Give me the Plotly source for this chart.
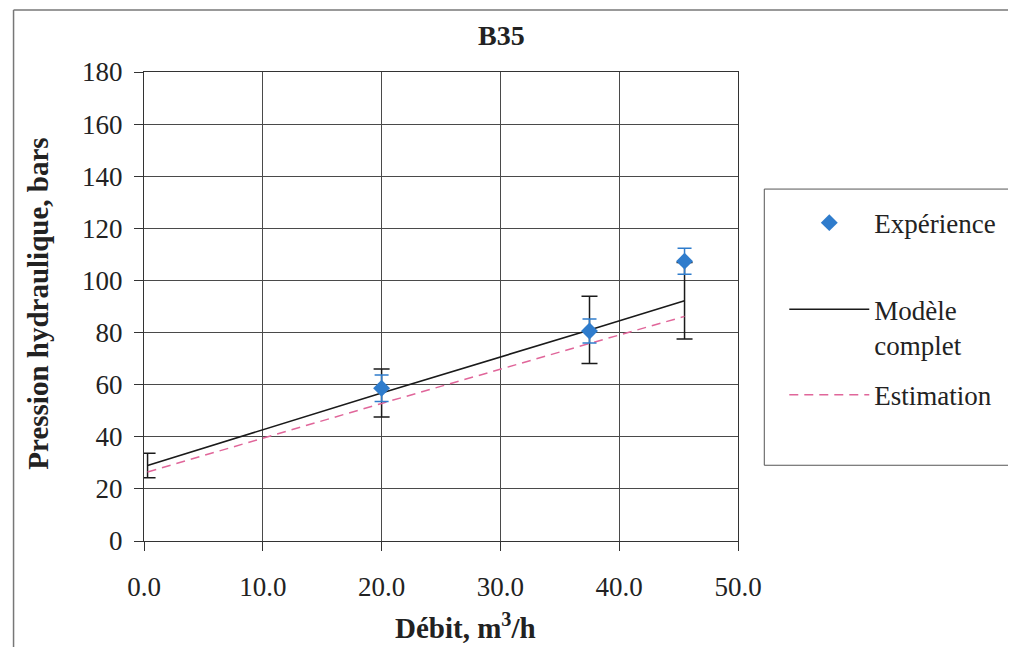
import plotly.graph_objects as go

# ---- data ----
x_model = [0.3, 20.0, 37.5, 45.5]
modele_complet = [29.0, 56.8, 81.0, 92.2]
modele_err = [4.7, 9.2, 12.9, 14.7]
estimation = [26.5, 52.8, 75.8, 86.2]

x_exp = [20.0, 37.5, 45.5]
experience = [58.6, 80.6, 107.4]
experience_err = [5.1, 4.6, 5.0]

x_ticks = [0, 10, 20, 30, 40, 50]
y_ticks = [0, 20, 40, 60, 80, 100, 120, 140, 160, 180]

FONT = "Liberation Serif, Times New Roman, serif"

# The page body has an 8px default margin: work in window pixels and shift.
OFF = 8
W, H = 1016 - OFF, 647 - OFF
L, R, T, B = 143.5 - OFF, 737.7 - OFF, 72.0 - OFF, 540.7 - OFF
pw, ph = R - L, B - T


def px_x(p):
    return (p - OFF - L) / pw


def px_y(p):
    return (B - (p - OFF)) / ph


fig = go.Figure()

fig.add_trace(go.Scatter(
    x=x_model, y=modele_complet, mode="lines", name="Modèle<br>complet",
    line=dict(color="#1a1a1a", width=1.6),
    error_y=dict(type="data", array=modele_err, visible=True,
                 color="#1a1a1a", thickness=1.5, width=8),
    legend="legend2",
))
fig.add_trace(go.Scatter(
    x=x_model, y=estimation, mode="lines", name="Estimation",
    line=dict(color="#e0669a", width=1.5, dash="9px,6px"),
    legend="legend3",
))
fig.add_trace(go.Scatter(
    x=x_exp, y=experience, mode="markers", name="Expérience",
    marker=dict(symbol="diamond", size=13, color="#2f7ccc"),
    error_y=dict(type="data", array=experience_err, visible=True,
                 color="#2f7ccc", thickness=1.5, width=7),
    legend="legend",
))

axis_common = dict(
    showgrid=True, gridcolor="#4a4a4a", gridwidth=1,
    showline=True, linecolor="#333333", linewidth=1, mirror=True,
    ticks="outside", ticklen=9, tickcolor="#333333",
    tickfont=dict(family=FONT, size=27, color="#222222"),
    zeroline=False,
)

fig.update_xaxes(range=[0, 50], tickvals=x_ticks, tickformat=".1f",
                 ticklabelstandoff=13, **axis_common)
fig.update_yaxes(range=[0, 180], tickvals=y_ticks,
                 ticklabelstandoff=6, **axis_common)

leg_common = dict(
    xanchor="left", yanchor="middle", borderwidth=0,
    bgcolor="rgba(0,0,0,0)",
    font=dict(family=FONT, size=27, color="#222222"),
    itemwidth=80, valign="top",
)

fig.update_layout(
    width=W, height=H,
    margin=dict(l=L, r=W - R, t=T, b=H - B, autoexpand=False),
    paper_bgcolor="white", plot_bgcolor="white",
    font=dict(family=FONT, color="#222222"),
    showlegend=True,
    legend=dict(x=px_x(784), y=px_y(223), **leg_common),
    legend2=dict(x=px_x(784), y=px_y(327), **leg_common),
    legend3=dict(x=px_x(784), y=px_y(395), **leg_common),
    annotations=[
        dict(text="<b>B35</b>", xref="paper", yref="paper",
             x=px_x(501), y=px_y(36), xanchor="center", yanchor="middle",
             showarrow=False, font=dict(family=FONT, size=28, color="#222222")),
        dict(text="<b>Pression hydraulique, bars</b>", xref="paper", yref="paper",
             x=px_x(38), y=px_y(304), xanchor="center", yanchor="middle",
             textangle=-90, showarrow=False,
             font=dict(family=FONT, size=29, color="#222222")),
        dict(text="<b>Débit, m<sup>3</sup>/h</b>", xref="paper", yref="paper",
             x=px_x(465), y=px_y(626), xanchor="center", yanchor="middle",
             showarrow=False, font=dict(family=FONT, size=29, color="#222222")),
    ],
    shapes=[
        # outer chart frame (left and top edges visible)
        dict(type="line", xref="paper", yref="paper",
             x0=px_x(13), y0=px_y(10), x1=px_x(1030), y1=px_y(10),
             line=dict(color="#777777", width=1.5)),
        dict(type="line", xref="paper", yref="paper",
             x0=px_x(13), y0=px_y(10), x1=px_x(13), y1=px_y(660),
             line=dict(color="#777777", width=1.5)),
        # legend frame
        dict(type="rect", xref="paper", yref="paper",
             x0=px_x(764), y0=px_y(189), x1=px_x(1011), y1=px_y(465),
             line=dict(color="#555555", width=1), layer="below",
             fillcolor="white"),
    ],
)

fig.write_html("out.html")
